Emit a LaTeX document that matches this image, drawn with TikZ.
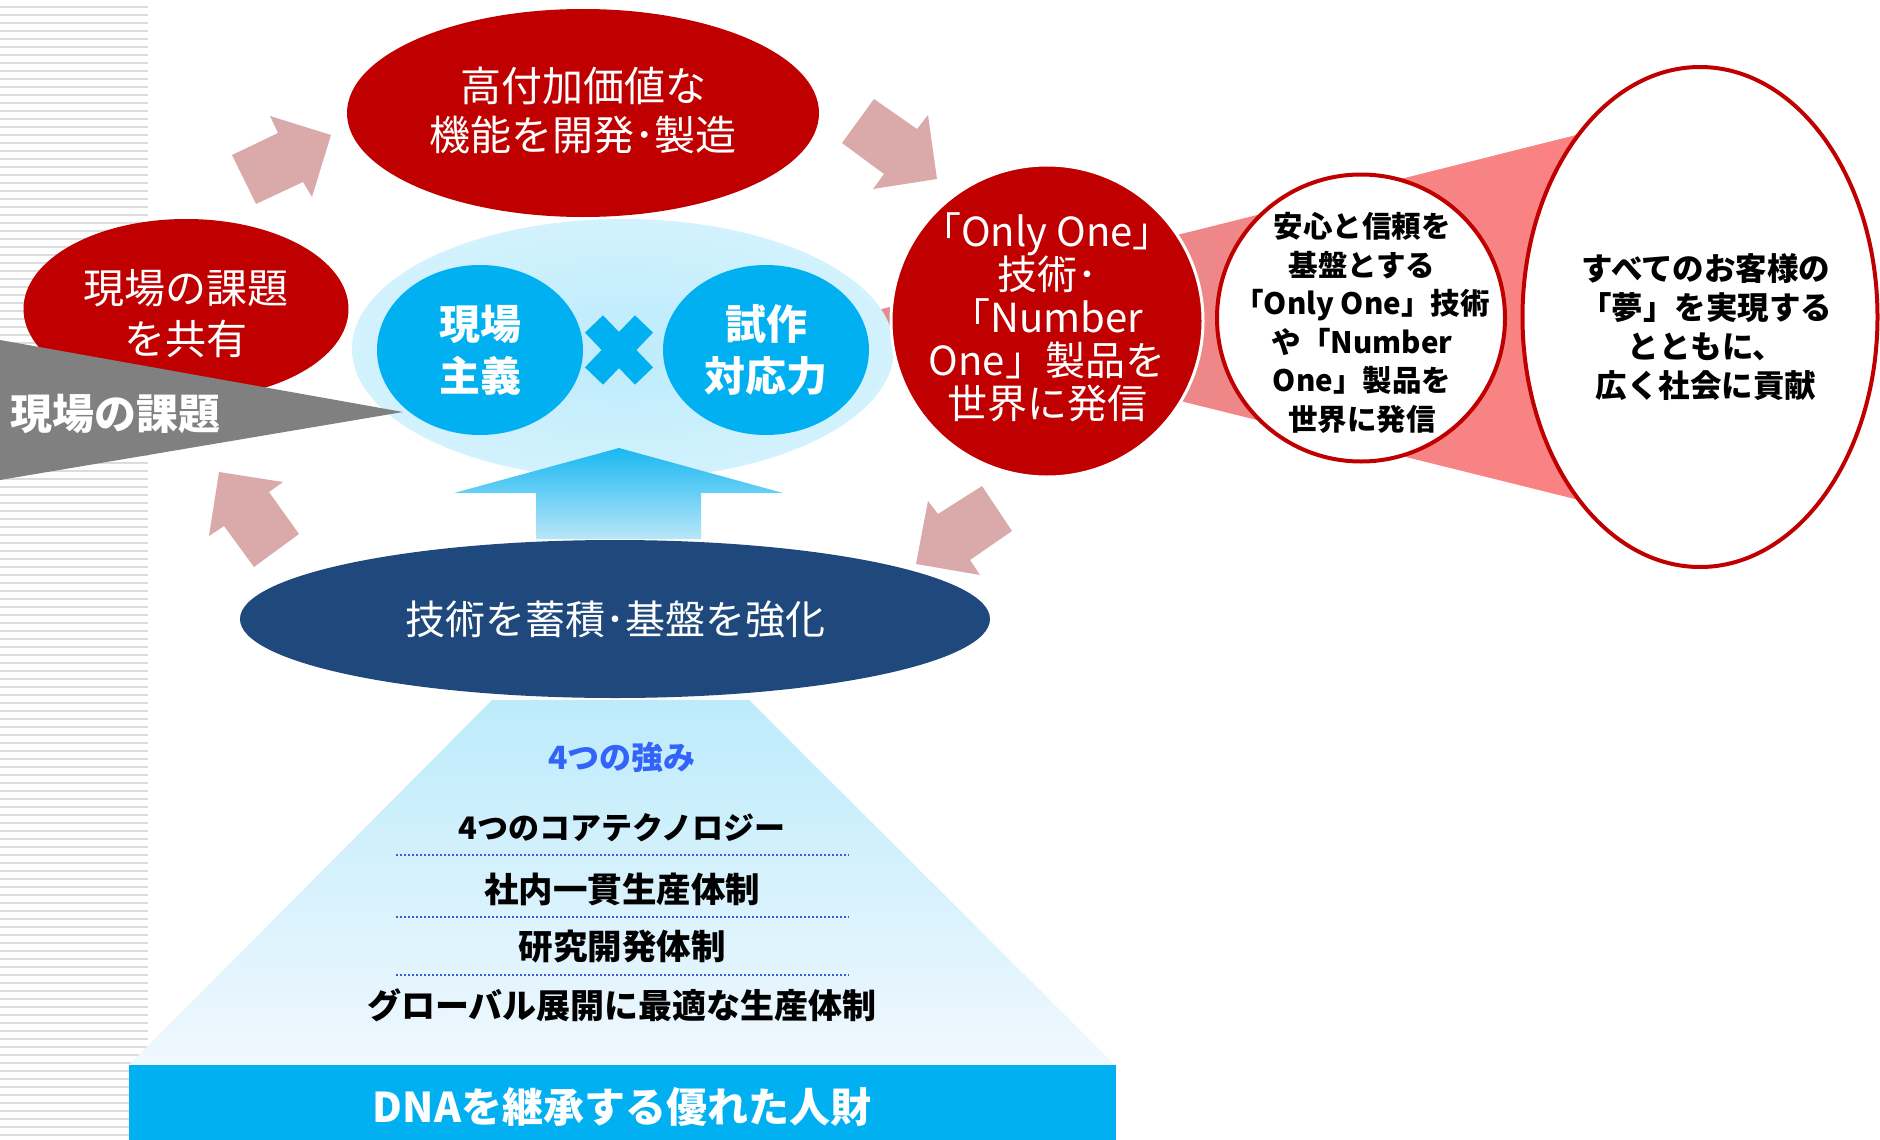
\documentclass[tikz,border=0pt]{standalone}
\usepackage{fontspec}
\setmainfont{Noto Sans CJK JP}
\usetikzlibrary{shapes.geometric,calc}
\definecolor{cred}{RGB}{192,0,0}
\definecolor{cpink}{RGB}{218,170,171}
\definecolor{cgray}{RGB}{128,128,128}
\definecolor{cblue}{RGB}{0,176,240}
\definecolor{cnavy}{RGB}{31,73,125}
\definecolor{clight}{RGB}{189,235,251}
\definecolor{clightb}{RGB}{210,242,253}
\definecolor{cpale}{RGB}{240,248,254}
\definecolor{ctitle}{RGB}{50,100,250}
\definecolor{cdot}{RGB}{60,90,220}
\definecolor{cstripe}{RGB}{220,220,220}
\definecolor{conel}{RGB}{226,140,142}
\definecolor{coner}{RGB}{255,128,128}
\tikzset{
  blob/.style={ellipse, inner sep=0pt},
  pinkarrow/.style={fill=cpink},
  wtext/.style={text=white, align=center, inner sep=0pt},
  btext/.style={text=black, align=center, inner sep=0pt, font=\bfseries},
  sep/.style={draw=cdot, line width=2pt, dash pattern=on 2pt off 2pt}
}
\begin{document}
\begin{tikzpicture}[x=1pt,y=-1pt]
\useasboundingbox (0,0) rectangle (1880,1140);
% stripes
\foreach \k in {0,...,141} \fill[cstripe] (0,{6+8*\k}) rectangle (148,{8+8*\k});
% cone
\shade[left color=conel, right color=coner] (846,318) -- (1700,104) -- (1700,530) -- cycle;
% big ellipse and middle ellipse
\node[blob, fill=white, draw=cred, line width=4pt, minimum width=355, minimum height=500] (bigE) at (1700,317) {};
\node[blob, fill=white, draw=cred, line width=4pt, minimum width=288, minimum height=287] (midE) at (1361,318) {};
% outer light ellipse
\node[blob, shade, inner color=clight, outer color=clightb, minimum width=542, minimum height=260] (outerE) at (623,349) {};
% top ellipse
\node[blob, fill=cred, minimum width=472, minimum height=208] (topE) at (583,113) {};
% left ellipse
\node[blob, fill=cred, minimum width=325, minimum height=180] (leftE) at (186,309) {};
% gray triangle
\fill[cgray] (0,340) -- (403,412) -- (0,480) -- cycle;
% blue circles
\node[blob, fill=cblue, minimum width=206, minimum height=170] (genba) at (480,350) {};
\node[blob, fill=cblue, minimum width=206, minimum height=170] (shisaku) at (766,350) {};
% cross
\coordinate (xc) at (619,350);
\draw[cblue, line width=25pt, line cap=butt] ($(xc)+(-25,-26)$) -- ($(xc)+(25,26)$);
\draw[cblue, line width=25pt, line cap=butt] ($(xc)+(25,-26)$) -- ($(xc)+(-25,26)$);
% up arrow
\shade[top color=cblue!90!white, bottom color={rgb,255:red,185;green,230;blue,248}]
  (619,448) -- (783,493) -- (701,493) -- (701,539) -- (536,539) -- (536,493) -- (454,493) -- cycle;
% bottom ellipse
\node[blob, fill=cnavy, minimum width=750, minimum height=158] (botE) at (615,619) {};
% trapezoid
\shade[top color=clight, middle color={rgb,255:red,202;green,239;blue,252}, bottom color=cpale]
  (492,700) -- (749,700) -- (1115,1065) -- (129,1065) -- cycle;
% bottom rectangle
\node[fill=cblue, minimum width=987, minimum height=80, inner sep=0pt, anchor=north west] (dna) at (129,1065) {};
% pink arrows
\fill[pinkarrow] (232,155) -- (278,133) -- (270,116) -- (331,135) -- (312,197) -- (303,182) -- (256,204) -- cycle;
\fill[pinkarrow] (874,99) -- (917,129) -- (928,115) -- (937,179) -- (873,189) -- (884,174) -- (842,143) -- cycle;
\fill[pinkarrow] (982,486) -- (938,514) -- (928,501) -- (916,564) -- (980,575) -- (970,560) -- (1012,531) -- cycle;
\fill[pinkarrow] (299,534) -- (269,492) -- (283,482) -- (219,472) -- (209,536) -- (224,526) -- (254,567) -- cycle;
% red circle
\node[circle, fill=cred, draw=white, line width=3pt, minimum size=312, inner sep=0pt] (redC) at (1047,321) {};
% texts
\node[wtext, font=\fontsize{41}{49}\selectfont] (topT) at (583,111) {高付加価値な\\機能を開発･製造};
\node[wtext, font=\fontsize{41}{51}\selectfont] (leftT) at (186,314) {現場の課題\\を共有};
\node[wtext, anchor=west, font=\bfseries\fontsize{42}{50}\selectfont] (grayT) at (10,414) {現場の課題};
\node[wtext, font=\bfseries\fontsize{41}{52}\selectfont] (genbaT) at (genba) {現場\\主義};
\node[wtext, font=\bfseries\fontsize{41}{52}\selectfont] (shisakuT) at (shisaku) {試作\\対応力};
\node[wtext, font=\fontsize{40}{43}\selectfont] (redT) at (1047,317) {「Only One」\\技術･\\「Number\\One」製品を\\世界に発信};
\node[btext, font=\bfseries\fontsize{29.5}{38.5}\selectfont] (midT) at (1362,323) {安心と信頼を\\基盤とする\\「Only One」技術\\や「Number\\One」製品を\\世界に発信};
\node[btext, font=\bfseries\fontsize{31.5}{39}\selectfont] (bigT) at (1706,327) {すべてのお客様の\\「夢」を実現する\\とともに、\\広く社会に貢献};
\node[wtext, font=\fontsize{40}{45}\selectfont] (botT) at (615,619) {技術を蓄積･基盤を強化};
\node[btext, text=ctitle, font=\bfseries\fontsize{32}{36}\selectfont] (strT) at (622,757) {4つの強み};
\node[btext, font=\bfseries\fontsize{31}{36}\selectfont] (s1) at (622,828) {4つのコアテクノロジー};
\node[btext, font=\bfseries\fontsize{34.5}{38}\selectfont] (s2) at (622,889) {社内一貫生産体制};
\node[btext, font=\bfseries\fontsize{34.5}{38}\selectfont] (s3) at (622,947) {研究開発体制};
\node[btext, font=\bfseries\fontsize{34}{38}\selectfont] (s4) at (622,1005) {グローバル展開に最適な生産体制};
\draw[sep] (396,855) -- (849,855);
\draw[sep] (396,917) -- (849,917);
\draw[sep] (396,975) -- (849,975);
\node[wtext, font=\bfseries\fontsize{41}{46}\selectfont] (dnaT) at (622,1107) {DNAを継承する優れた人財};
\end{tikzpicture}
\end{document}
